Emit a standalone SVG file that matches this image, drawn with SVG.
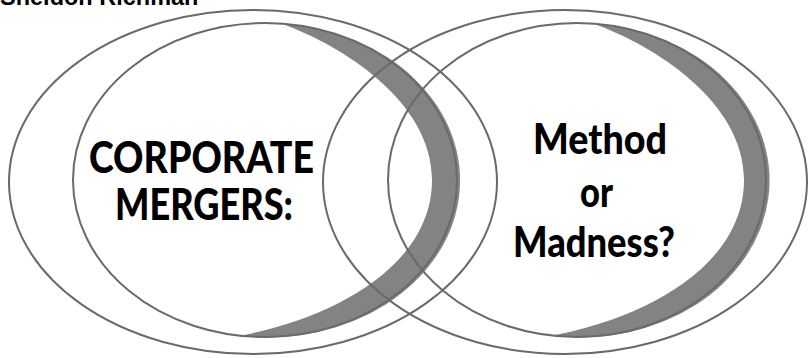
<svg xmlns="http://www.w3.org/2000/svg" width="808" height="358" viewBox="0 0 808 358">
<style>
.ring{fill:none;stroke:#6a6a6a;stroke-width:2}
.band{fill:#838383}
.title{font-family:"Lato","Open Sans",sans-serif;font-weight:900;fill:#000}
.byline{font-family:"Liberation Sans",Arial,sans-serif;font-weight:700;fill:#000}
</style>
<rect width="808" height="358" fill="#fff"/>
<text class="byline" x="0" y="5" font-size="23.5">Sheldon Richman</text>
<g id="left-circle">
<path class="band" d="M282,23.8 A192,157 0 1 1 240,335.7 C335,318 432,265 432,180 C432,102 343,46 282,23.8 Z"/>
</g>
<g id="right-circle">
<path class="band" d="M594,23.8 A189,157 0 1 1 552,335.6 C647,318 744,265 744,180 C744,102 655,46 594,23.8 Z"/>
</g>
<g id="rings">
<ellipse class="ring" cx="253" cy="182" rx="244" ry="172"/>
<ellipse class="ring" cx="265" cy="180" rx="192" ry="157"/>
<ellipse class="ring" cx="565" cy="182" rx="242" ry="172"/>
<ellipse class="ring" cx="577" cy="180" rx="189" ry="157"/>
</g>
<g id="left-text">
<text class="title" x="89" y="173" font-size="43" textLength="225" lengthAdjust="spacingAndGlyphs">CORPORATE</text>
<text class="title" x="115" y="220" font-size="43" textLength="178" lengthAdjust="spacingAndGlyphs">MERGERS:</text>
</g>
<g id="right-text">
<text class="title" x="533" y="154" font-size="42" textLength="134" lengthAdjust="spacingAndGlyphs">Method</text>
<text class="title" x="580" y="207" font-size="42" textLength="33" lengthAdjust="spacingAndGlyphs">or</text>
<text class="title" x="513" y="257" font-size="42" textLength="162" lengthAdjust="spacingAndGlyphs">Madness?</text>
</g>
</svg>
